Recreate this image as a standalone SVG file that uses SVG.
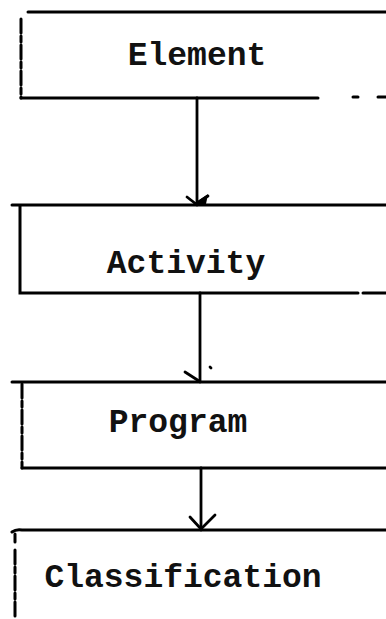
<svg xmlns="http://www.w3.org/2000/svg" width="386" height="619" viewBox="0 0 386 619">
  <style>
    .box { fill: none; stroke: #000; stroke-width: 3; stroke-linecap: round; }
    .dash { stroke-dasharray: 14 3 6 3; }
    .edge { fill: none; stroke: #000; stroke-width: 2.8; stroke-linecap: round; stroke-linejoin: round; }
    .label { font-family: "Liberation Mono", "Courier New", monospace; font-weight: bold; font-size: 33px; fill: #111; text-anchor: middle; }
  </style>
  <rect width="386" height="619" fill="#fff"/>

  <g id="element">
    <path class="box" d="M28 12 L386 12"/>
    <path class="box dash" d="M21 19 L21 98"/>
    <path class="box" d="M21 98 L318 98 M353 97 L358 97 M378 97 L386 97"/>
    <text class="label" x="197" y="65">Element</text>
  </g>

  <g id="activity">
    <path class="box" d="M12 205 L386 205"/>
    <path class="box" d="M20 206 L20 293 L358 293 M363 293 L386 293"/>
    <text class="label" x="186" y="273">Activity</text>
  </g>

  <g id="program">
    <path class="box" d="M12 382 L386 382"/>
    <path class="box dash" d="M22 384 L22 468"/>
    <path class="box" d="M22 468 L386 468"/>
    <text class="label" x="178" y="432">Program</text>
  </g>

  <g id="classification">
    <path class="box" d="M12 532 Q16 529 22 530 L386 530"/>
    <path class="box" d="M15 534 L15 542"/>
    <path class="box dash" d="M15 550 L15 619"/>
    <text class="label" x="183" y="587">Classification</text>
  </g>

  <g id="connectors">
    <path class="edge" d="M197 98 L197 205"/>
    <path class="edge" d="M187 197 L196 204 L208 196"/>
    <path d="M193 204 L208 194 L206 204 Z" fill="#000"/>
    <path class="edge" d="M200 293 L200 382"/>
    <path class="edge" d="M185 372 L199 381 M210 367 L211 368"/>
    <path class="edge" d="M201 468 L201 530"/>
    <path class="edge" d="M190 517 L201 529 L215 515"/>
  </g>
</svg>
